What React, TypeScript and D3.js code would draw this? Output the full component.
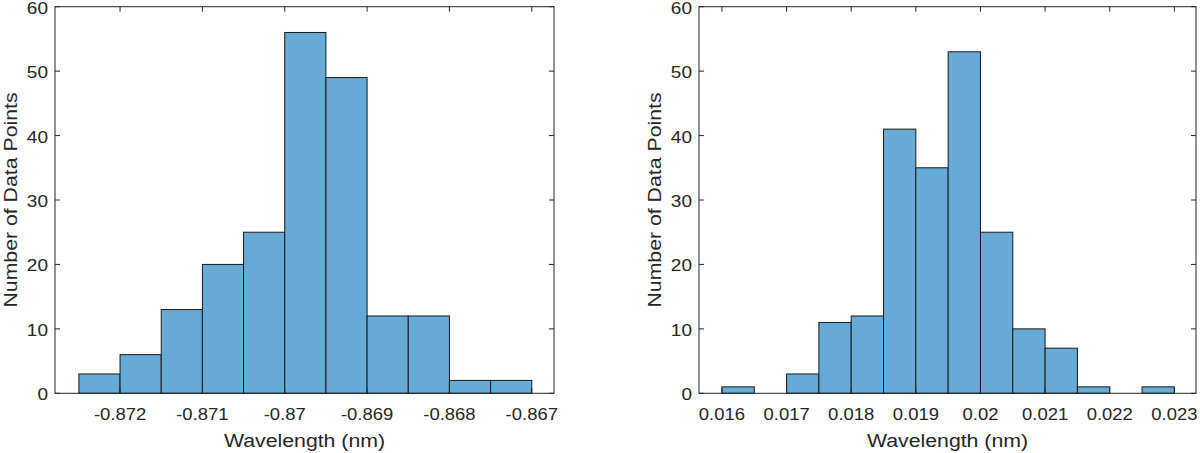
import React from "react";
import * as d3 from "d3";

// histogram data
const leftBinEdges = [
  -0.8725, -0.872, -0.8715, -0.871, -0.8705, -0.87, -0.8695, -0.869, -0.8685,
  -0.868, -0.8675, -0.867,
];
const leftCounts = [3, 6, 13, 20, 25, 56, 49, 12, 12, 2, 2];
const leftTicks = [-0.872, -0.871, -0.87, -0.869, -0.868, -0.867];
const leftTickLabels = ["-0.872", "-0.871", "-0.87", "-0.869", "-0.868", "-0.867"];

const rightBinEdges = [
  0.016, 0.0165, 0.017, 0.0175, 0.018, 0.0185, 0.019, 0.0195, 0.02, 0.0205,
  0.021, 0.0215, 0.022, 0.0225, 0.023,
];
const rightCounts = [1, 0, 3, 11, 12, 41, 35, 53, 25, 10, 7, 1, 0, 1];
const rightTicks = [0.016, 0.017, 0.018, 0.019, 0.02, 0.021, 0.022, 0.023];
const rightTickLabels = ["0.016", "0.017", "0.018", "0.019", "0.02", "0.021", "0.022", "0.023"];

const yTicks = [0, 10, 20, 30, 40, 50, 60];
const xLabel = "Wavelength (nm)";
const yLabel = "Number of Data Points";

const W = 1200;
const H = 453;
const TOP = 6.7;
const BOTTOM = 393.3;
const AXIS = "#262626";
const FILL = "rgb(102,170,215)";
const FONT = "'Liberation Sans', Arial, sans-serif";
// the source font runs wider than Arial
const SX = 1.12;

type PanelProps = {
  x0: number;
  x1: number;
  domain: [number, number];
  edges: number[];
  counts: number[];
  ticks: number[];
  tickLabels: string[];
  yLabelX: number;
};

function Panel({ x0, x1, domain, edges, counts, ticks, tickLabels, yLabelX }: PanelProps) {
  const x = d3.scaleLinear().domain(domain).range([x0, x1]);
  const y = d3.scaleLinear().domain([0, 60]).range([BOTTOM, TOP]);
  const tl = 5;
  return (
    <g>
      {counts.map((c, i) => (
        <rect
          key={i}
          x={x(edges[i])}
          y={y(c)}
          width={x(edges[i + 1]) - x(edges[i])}
          height={y(0) - y(c)}
          fill={FILL}
          stroke="#1a1a1a"
          strokeWidth={1}
        />
      ))}
      <rect x={x0} y={TOP} width={x1 - x0} height={BOTTOM - TOP} fill="none" stroke={AXIS} strokeWidth={1} />
      {ticks.map((t, i) => (
        <g key={"xt" + i}>
          <line x1={x(t)} x2={x(t)} y1={BOTTOM} y2={BOTTOM - tl} stroke={AXIS} />
          <line x1={x(t)} x2={x(t)} y1={TOP} y2={TOP + tl} stroke={AXIS} />
          <text
            transform={`translate(${x(t)},420) scale(${SX},1)`}
            textAnchor="middle"
            fontSize={16.5}
            fill={AXIS}
            fontFamily={FONT}
          >
            {tickLabels[i]}
          </text>
        </g>
      ))}
      {yTicks.map((t) => (
        <g key={"yt" + t}>
          <line x1={x0} x2={x0 + tl} y1={y(t)} y2={y(t)} stroke={AXIS} />
          <line x1={x1} x2={x1 - tl} y1={y(t)} y2={y(t)} stroke={AXIS} />
          <text
            transform={`translate(${x0 - 7},${y(t) + 7}) scale(${SX},1)`}
            textAnchor="end"
            fontSize={17}
            fill={AXIS}
            fontFamily={FONT}
          >
            {t}
          </text>
        </g>
      ))}
      <text
        transform={`translate(${(x0 + x1) / 2},447) scale(${SX},1)`}
        textAnchor="middle"
        fontSize={19}
        fill={AXIS}
        fontFamily={FONT}
      >
        {xLabel}
      </text>
      <text
        transform={`translate(${yLabelX},${(TOP + BOTTOM) / 2}) rotate(-90) scale(${SX},1)`}
        textAnchor="middle"
        fontSize={19}
        fill={AXIS}
        fontFamily={FONT}
      >
        {yLabel}
      </text>
    </g>
  );
}

export default function App() {
  return (
    <svg width={W} height={H} style={{ position: "absolute", left: 0, top: 0, background: "#fff" }}>
      <Panel
        x0={55}
        x1={554}
        domain={[-0.87279, -0.86673]}
        edges={leftBinEdges}
        counts={leftCounts}
        ticks={leftTicks}
        tickLabels={leftTickLabels}
        yLabelX={16.5}
      />
      <Panel
        x0={699}
        x1={1196}
        domain={[0.015645, 0.023335]}
        edges={rightBinEdges}
        counts={rightCounts}
        ticks={rightTicks}
        tickLabels={rightTickLabels}
        yLabelX={661}
      />
    </svg>
  );
}
